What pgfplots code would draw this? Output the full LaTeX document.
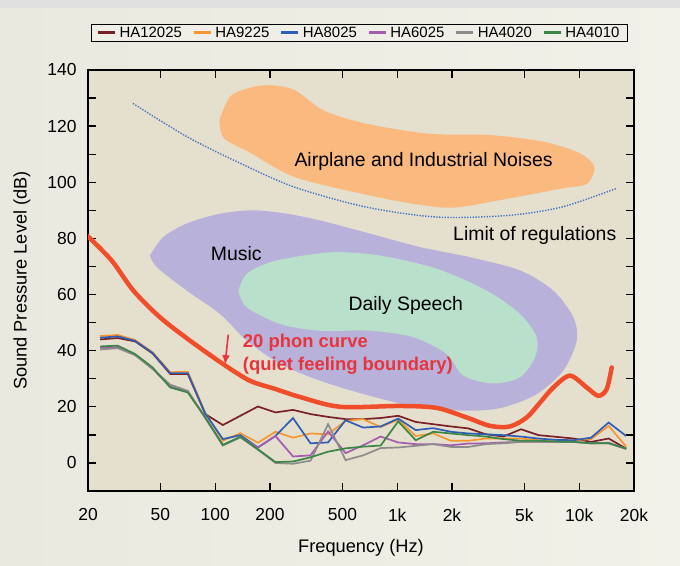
\documentclass[border=0pt]{standalone}
\usepackage{fontspec}
\setmainfont{Liberation Sans}
\usepackage{pgfplots}
\usepackage{pgfplotstable}
\pgfplotsset{compat=1.18}
\usetikzlibrary{arrows.meta}

\definecolor{slidebgL}{HTML}{E9E9DF}
\definecolor{slidebgR}{HTML}{F1F1E9}
\definecolor{legendbg}{HTML}{EFEFE7}
\definecolor{plotbg}{HTML}{E5DFCE}
\definecolor{noiseor}{HTML}{FAB97E}
\definecolor{musicpu}{HTML}{B8B1D9}
\definecolor{speechgr}{HTML}{B9E0CB}
\definecolor{phonred}{HTML}{F04E2A}
\definecolor{textred}{HTML}{E8343C}
\definecolor{limitblue}{HTML}{3D72C4}
\definecolor{cA}{HTML}{7A2127}
\definecolor{cB}{HTML}{F7962F}
\definecolor{cC}{HTML}{2E5EB5}
\definecolor{cD}{HTML}{A55CB0}
\definecolor{cE}{HTML}{8C8C8C}
\definecolor{cF}{HTML}{3A8745}

% frequency (Hz) and levels (dB) of the six series
\pgfplotstableread{
f a b c d e g
23.3 44.0 45.2 44.6 41.0 40.4 41.5
29.1 44.5 45.6 45.1 41.3 40.9 41.8
36.3 43.3 43.8 43.5 38.5 38.4 38.8
45.3 39.0 39.4 39.2 33.5 33.5 34.0
56.6 31.7 32.3 32.0 27.2 27.9 26.9
70.7 31.7 32.5 32.0 25.5 25.7 25.1
88.2 17.4 17.8 17.6 16.0 16.2 16.2
110.1 13.5 7.9 8.5 6.4 6.2 6.4
137.5 16.8 10.6 9.9 9.3 9.1 9.3
171.6 20.1 7.2 5.5 5.5 4.7 4.9
214.3 18.0 11.1 9.6 9.6 0.0 0.3
267.5 18.9 9.0 16.0 2.3 -0.3 0.5
333.9 17.4 10.5 7.0 2.7 0.8 2.0
416.9 16.4 10.2 7.3 11.2 13.8 4.0
520.4 15.6 15.0 15.2 3.5 1.0 5.2
649.7 15.6 15.6 12.6 6.3 2.7 5.8
811.1 16.0 12.8 13.0 9.4 5.3 6.2
1012.6 16.8 15.4 15.8 7.3 5.5 14.8
1264 14.6 9.6 11.7 6.7 6.1 8.1
1578 13.8 10.5 12.4 6.7 6.7 11.1
1970 13.0 7.9 11.1 6.3 5.7 10.5
2460 12.3 7.9 10.5 6.9 5.7 9.9
3071 10.2 8.7 10.2 7.0 6.7 9.4
3834 9.4 8.7 9.9 7.3 7.0 8.5
4786 12.0 8.7 9.4 7.5 7.5 7.9
5975 9.9 8.1 8.7 7.5 7.5 7.9
7459 9.3 8.1 8.2 7.5 7.6 7.6
9312 8.7 8.1 8.1 7.5 7.5 7.5
11625 7.5 8.5 9.0 7.0 7.0 7.0
14513 8.7 13.2 14.4 7.2 7.0 7.0
18118 5.1 5.8 9.6 5.0 5.0 5.1
}\series

\begin{document}
\begin{tikzpicture}
\shade[left color=slidebgL, right color=slidebgR] (0bp,0bp) rectangle (680bp,566bp);
\fill[black!12] (0bp,558bp) rectangle (680bp,566bp);
\begin{axis}[
  at={(88bp,75bp)}, anchor=south west,
  scale only axis, width=546bp, height=421bp,
  xmode=log, log basis x=10,
  xmin=20, xmax=20000, ymin=-10, ymax=140,
  xtick={20,50,100,200,500,1000,2000,5000,10000,20000},
  xticklabels={20,50,100,200,500,1k,2k,5k,10k,20k},
  xminorticks=false,
  ytick={0,20,...,140},
  minor ytick={10,30,50,70,90,110,130},
  tick align=inside,
  major tick length=8bp, minor tick length=8bp,
  tick style={black, line width=1.3bp},
  axis line style={black, line width=1.2bp},
  axis background/.style={fill=plotbg},
  /pgf/number format/assume math mode=true,
  tick label style={font=\fontsize{17.5}{20}\selectfont},
  yticklabel style={xshift=-8bp},
  xticklabel style={yshift=-14bp},
  xlabel={Frequency (Hz)},
  ylabel={Sound Pressure Level (dB)},
  every axis x label/.style={at={(axis description cs:0.5,-0.135)}, anchor=center, font=\fontsize{18.3}{21}\selectfont},
  every axis y label/.style={at={(axis description cs:-0.121,0.5)}, anchor=center, rotate=90, font=\fontsize{18.3}{21}\selectfont},
  legend columns=6,
  legend style={at={(axis description cs:0.5,1)}, anchor=center, yshift=37bp, xshift=-1.5bp,
    draw=black, line width=1bp, fill=legendbg, font=\fontsize{15}{17}\selectfont,
    inner xsep=5bp, inner ysep=1bp,
    nodes={inner ysep=1.5bp, inner xsep=3bp},
    /tikz/every even column/.append style={column sep=7.5bp}},
  legend image code/.code={\draw[#1, line width=3bp] (0bp,0bp) -- (17bp,0bp);},
]
% Airplane and industrial noises
\addplot[fill=noiseor, draw=none, smooth, forget plot] coordinates {
(105.3,122.1) (120.6,130.5) (151.2,133.5) (198.3,134.6) (272,132.9) (390.6,125.7)
(613.6,121.5) (1054,118.6) (1656,117.1) (3264,116.8) (6428,114.4) (10100,110.3)
(12106,105.5) (11052,99.5) (8054,97.8) (4092,94.2) (2078,91.0) (1322,92.0)
(671,95.6) (272,101.9) (158,110.3) (112,115.6) (105.3,122.1)};
% Music
\addplot[fill=musicpu, draw=none, smooth, forget plot] coordinates {
(43.8,73.9) (51.9,80.5) (69.7,85.3) (106.2,88.8) (161.9,90) (247,88.8) (376.6,86.4)
(708.6,81.7) (1335,76.9) (2512,73.3) (4728,68.6) (7206,61.4) (9280,51.9) (9688,43.6)
(8176,32.9) (5842,24.5) (3828,19.8) (2512,18.6) (1335,19.8) (708.6,23.9) (376.6,29.3)
(227,35.3) (148.9,43.6) (106.2,53.1) (69.7,61.4) (47.7,69.8) (43.8,73.9)};
% Daily speech
\addplot[fill=speechgr, draw=none, smooth, forget plot] coordinates {
(133.9,61.4) (148.9,67.4) (200,71.5) (304.8,73.9) (465,75.1) (804,73.9) (1648,69.2)
(3102,61.4) (4728,53.1) (5842,44.8) (5716,37.6) (4728,30.5) (3372,28.3) (2308,31.1)
(1870,38.8) (1226,44.8) (708.6,47.1) (376.6,47.1) (227,49.5) (148.9,55.5) (133.9,61.4)};
% Limit of regulations
\addplot[limitblue, line width=1.4bp, dash pattern=on 1.3bp off 1.5bp, smooth, forget plot] coordinates {
(35.3,128.1) (70.1,116.2) (138,106.7) (272,98.3) (671,91.2) (1656,87.6) (4092,88.2) (8054,91.2) (15860,97.7)};
% 20 phon curve
\addplot[phonred, line width=4.5bp, smooth, line cap=round, forget plot] coordinates {
(20,80.7) (27,72.1) (35.5,61.4) (49.7,51.9) (72.6,43.6) (110.7,35.2) (155,29.3)
(215,26.3) (292,23.5) (485,20.0) (1036,20.3) (1648,19.6) (2408,16.2) (3236,13.2)
(4166,13.0) (5146,16.2) (6092,21.5) (7212,26.9) (8896,31.1) (10990,26.9) (12728,23.9)
(14158,26.3) (15078,34.0)};
\addplot[textred, line width=1.6bp, -{Latex[length=9bp,width=8bp]}, forget plot] coordinates {(118,45.7) (113.2,35.2)};

\addplot[cA, line width=1.7bp] table[x=f, y=a] {\series};
\addlegendentry{HA12025}
\addplot[cB, line width=1.7bp] table[x=f, y=b] {\series};
\addlegendentry{HA9225}
\addplot[cC, line width=1.7bp] table[x=f, y=c] {\series};
\addlegendentry{HA8025}
\addplot[cD, line width=1.7bp] table[x=f, y=d] {\series};
\addlegendentry{HA6025}
\addplot[cE, line width=1.7bp] table[x=f, y=e] {\series};
\addlegendentry{HA4020}
\addplot[cF, line width=1.7bp] table[x=f, y=g] {\series};
\addlegendentry{HA4010}

\node[anchor=base west, inner sep=0pt, font=\fontsize{19.5}{22}\selectfont] at (axis cs:272,105.7) {Airplane and Industrial Noises};
\node[anchor=base west, inner sep=0pt, font=\fontsize{19.5}{22}\selectfont] at (axis cs:2026,79.3) {Limit of regulations};
\node[anchor=base west, inner sep=0pt, font=\fontsize{19.5}{22}\selectfont] at (axis cs:94.5,72.1) {Music};
\node[anchor=base west, inner sep=0pt, font=\fontsize{19.5}{22}\selectfont] at (axis cs:538.6,54.3) {Daily Speech};
\node[anchor=base west, inner sep=0pt, text=textred, font=\bfseries\fontsize{18.5}{22}\selectfont] at (axis cs:141.6,41.0) {20 phon curve};
\node[anchor=base west, inner sep=0pt, text=textred, font=\bfseries\fontsize{18.5}{22}\selectfont] at (axis cs:141.6,32.9) {(quiet feeling boundary)};
\end{axis}
\end{tikzpicture}
\end{document}
